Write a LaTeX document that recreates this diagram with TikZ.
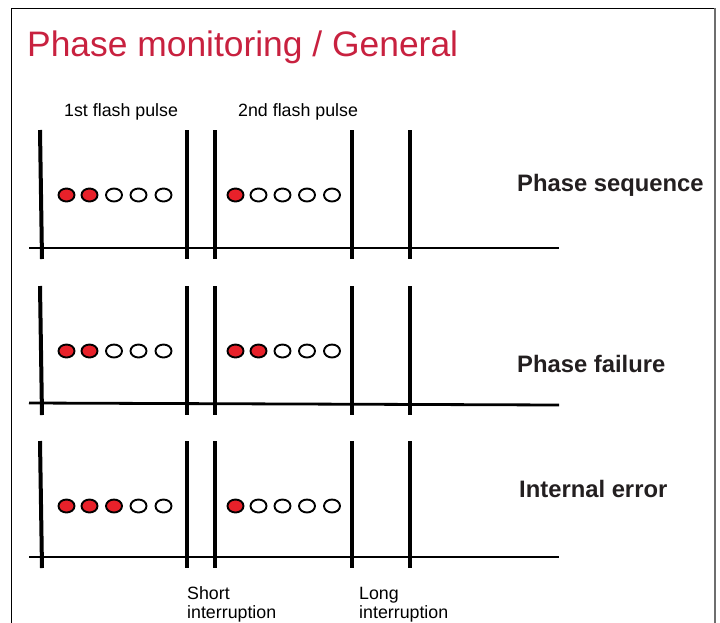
\documentclass[tikz,border=0pt]{standalone}
\usepackage{fontspec}
\setmainfont{Liberation Sans}
\definecolor{titlered}{HTML}{C8213F}
\definecolor{ledred}{HTML}{E8212A}
\definecolor{labelgray}{HTML}{231F20}
\definecolor{framegray}{HTML}{6E6E6E}
\tikzset{
  pulse/.style={line width=4pt, black},
  axis/.style={line width=2.8pt, black},
  led/.style={ellipse, draw=black, line width=1.9pt, minimum width=16pt, minimum height=13pt, inner sep=0pt, fill=white},
  ledon/.style={led, fill=ledred},
  small/.style={font=\fontsize{17.8}{20}\selectfont, text=black, inner sep=0pt, align=left},
  rowlabel/.style={font=\fontsize{23.8}{28}\selectfont\bfseries, text=labelgray, inner sep=0pt, anchor=base west},
}
\usetikzlibrary{shapes.geometric}
\begin{document}
\begin{tikzpicture}[x=1pt, y=-1pt]
  \useasboundingbox (0,0) rectangle (720,622);
  % page frame
  \draw[line width=1pt, black] (11,625) -- (11,8) -- (715,8);
  \draw[line width=2pt, framegray] (715,8) -- (715,625);

  % title
  \node[anchor=base west, inner sep=0pt, text=titlered,
        font=\fontsize{35.4}{40}\selectfont] (title) at (27,56) {Phase monitoring / General};

  % pulse captions
  \node[small, anchor=base west] (p1) at (64,116) {1st flash pulse};
  \node[small, anchor=base west] (p2) at (238,116) {2nd flash pulse};

  % three timing rows: top, bottom, axis y at left and right, led y, lit leds in pulse 1 and pulse 2
  \foreach \top/\bot/\axl/\axr/\cy/\ra/\rb/\name in
      {130/259/248/248/195/2/1/r1, 286/415/403/405/351/2/2/r2, 441/568/557/557/506/3/1/r3}{
    \draw[axis] (29,\axl) -- (559,\axr);
    \draw[pulse] (40,\top) -- (42,\bot);
    \foreach \x in {187,215,352,410}
      \draw[pulse] (\x,\top) -- (\x,\bot);
    \foreach \i/\x in {1/66.5,2/89.5,3/114,4/138.5,5/163.5}{
      \ifnum\i>\ra
        \node[led] (\name a\i) at (\x,\cy) {};
      \else
        \node[ledon] (\name a\i) at (\x,\cy) {};
      \fi
    }
    \foreach \i/\x in {1/235.5,2/258.5,3/282.5,4/307,5/332}{
      \ifnum\i>\rb
        \node[led] (\name b\i) at (\x,\cy) {};
      \else
        \node[ledon] (\name b\i) at (\x,\cy) {};
      \fi
    }
  }

  % row captions
  \node[rowlabel] (seq) at (517,191) {Phase sequence};
  \node[rowlabel] (fail) at (517,372) {Phase failure};
  \node[rowlabel] (err) at (519,497) {Internal error};

  % interruption captions
  \node[small, anchor=base west] (short) at (187,599) {Short};
  \node[small, anchor=base west] (shorti) at (187,618) {interruption};
  \node[small, anchor=base west] (long) at (359,599) {Long};
  \node[small, anchor=base west] (longi) at (359,618) {interruption};
\end{tikzpicture}
\end{document}
